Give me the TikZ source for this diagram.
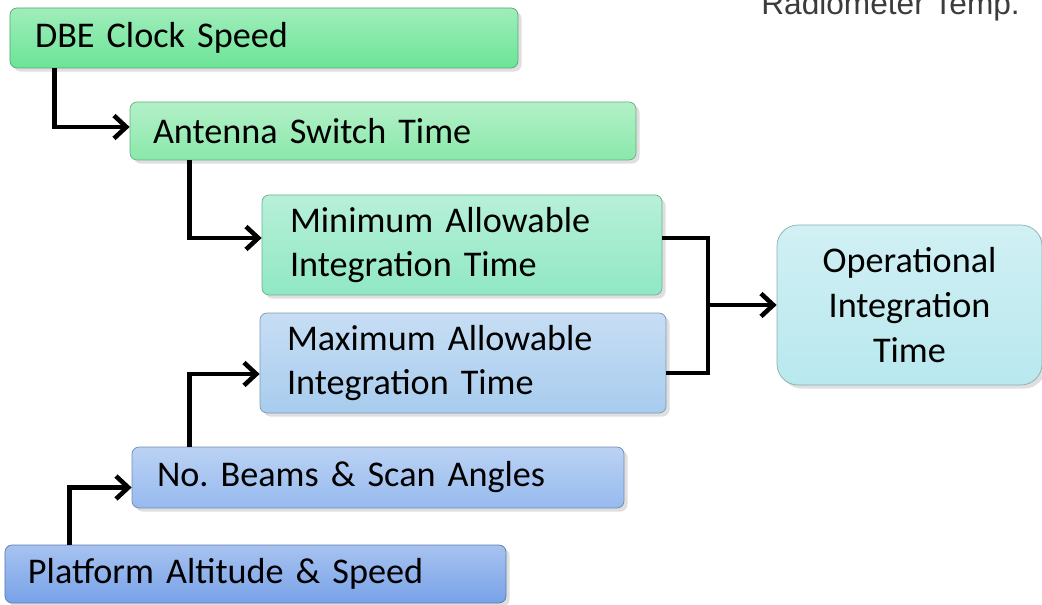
\documentclass[tikz,border=0pt]{standalone}
\usepackage{fontspec}
\setmainfont{Carlito}
\newfontfamily\radfont{Liberation Sans}
\frenchspacing
\DeclareRobustCommand\boxfont{\fontsize{20.6}{25.5}\selectfont\fontdimen2\font=0.17em\relax}
\usepackage{xcolor}
\definecolor{dbegreen}{RGB}{108,228,150}
\definecolor{antgreen}{RGB}{138,232,170}
\definecolor{minmint}{RGB}{144,232,196}
\definecolor{maxblue}{RGB}{168,204,238}
\definecolor{beamblue}{RGB}{150,186,238}
\definecolor{platblue}{RGB}{120,162,232}
\definecolor{opcyan}{RGB}{184,232,238}
\definecolor{radgray}{RGB}{60,60,60}
\usetikzlibrary{arrows.meta, positioning, shadows}

\begin{document}
\begin{tikzpicture}[
    every node/.style={font=\boxfont},
    blk/.style={draw=#1!75!black, line width=0.4pt, top color=#1!65!white,
                bottom color=#1, rounded corners=4pt, align=left,
                drop shadow={opacity=0.25, shadow xshift=2pt, shadow yshift=-2pt},
                inner ysep=0pt},
    opblk/.style={draw=opcyan!75!black, line width=0.4pt, top color=opcyan!65!white,
                  bottom color=opcyan, rounded corners=12pt, align=center,
                  drop shadow={opacity=0.25, shadow xshift=2pt, shadow yshift=-2pt}},
    arr/.style={-{Straight Barb[length=7pt, width=13pt, line width=2.6pt]}, line width=2.7pt},
    line/.style={line width=2.7pt},
]
\useasboundingbox (0,0) rectangle (20.84,-12.1);

% top right label, cut by the page edge
\node[font=\radfont\fontsize{18}{20}\selectfont, text=radgray, anchor=base west, inner sep=0pt]
      (rad) at (15.22,-0.29) {Radiometer Temp.};

% ===== green chain =====
\node[blk=dbegreen, minimum height=1.2cm, inner xsep=0.5cm, text width=9.16cm] (dbe) at (5.28,-0.76)
      {DBE Clock Speed};
\node[blk=antgreen, minimum height=1.16cm, inner xsep=0.46cm, text width=9.2cm] (ant) at (7.66,-2.62)
      {Antenna Switch Time};
\node[blk=minmint, minimum height=2cm, inner xsep=0.56cm, text width=6.88cm] (min) at (9.24,-4.9)
      {Minimum Allowable\\Integration Time};

% ===== blue chain =====
\node[blk=maxblue, minimum height=2cm, inner xsep=0.54cm, text width=7.04cm] (max) at (9.26,-7.26)
      {Maximum Allowable\\Integration Time};
\node[blk=beamblue, minimum height=1.22cm, inner xsep=0.5cm, text width=8.84cm] (beams) at (7.56,-9.55)
      {No. Beams \& Scan Angles};
\node[blk=platblue, minimum height=1.16cm, inner xsep=0.46cm, text width=9.1cm] (plat) at (5.11,-11.48)
      {Platform Altitude \& Speed};

% result
\node[opblk, minimum width=5.3cm, minimum height=3.2cm] (op) at (18.19,-6.1)
      {Operational\\Integration\\Time};

% elbow arrows
\draw[arr] ([xshift=0.9cm]dbe.south west) |- ([yshift=0.08cm]ant.west);
\draw[arr] ([xshift=1.2cm]ant.south west) |- ([yshift=0.14cm]min.west);
\draw[arr] ([xshift=1.3cm]plat.north west) |- ([yshift=-0.2cm]beams.west);
\draw[arr] ([xshift=1.16cm]beams.north west) |- ([yshift=-0.22cm]max.west);

% bracket into the result
\coordinate (join) at (14.16,-6.1);
\draw[line] ([yshift=0.14cm]min.east) -| (join);
\draw[line] ([yshift=-0.2cm]max.east) -| (join);
\draw[arr] (join) -- (op.west);

\end{tikzpicture}
\end{document}
